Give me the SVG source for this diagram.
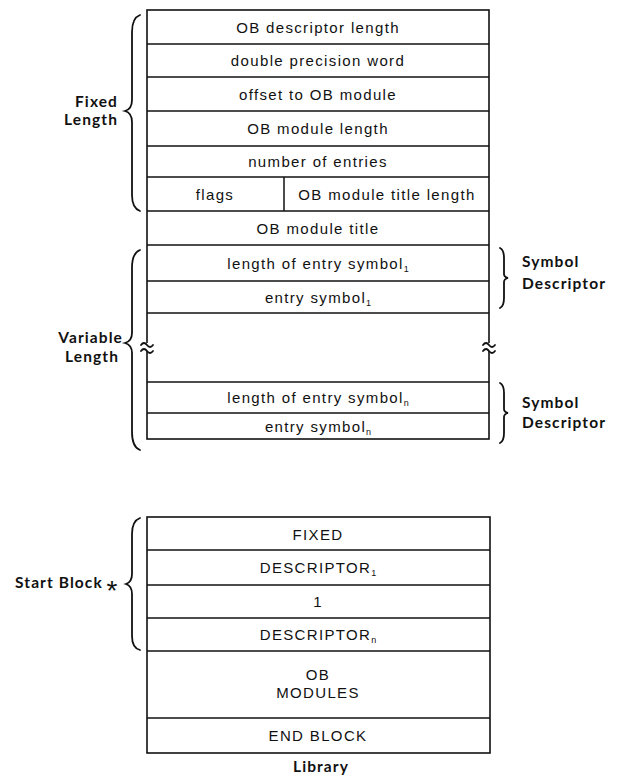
<svg xmlns="http://www.w3.org/2000/svg" width="618" height="776" viewBox="0 0 618 776">
<style>
.box{fill:none;stroke:#111;stroke-width:1.6}
.ln{stroke:#111;stroke-width:1.5}
.t{font-family:"Liberation Sans",Arial,sans-serif;font-size:15px;letter-spacing:1.35px;fill:#111;text-anchor:middle}
.sub{font-size:9px;letter-spacing:0}
.b{font-family:Lato,"Open Sans",sans-serif;font-weight:bold;font-size:15.5px;letter-spacing:1.1px;fill:#111}
.br{fill:none;stroke:#111;stroke-width:1.8;stroke-linecap:round}
</style>
<rect width="618" height="776" fill="#fff"/>

<g id="ob-descriptor">
  <rect class="box" x="147" y="10" width="342" height="429"/>
  <line class="ln" x1="147" y1="44" x2="489" y2="44"/>
  <line class="ln" x1="147" y1="77" x2="489" y2="77"/>
  <line class="ln" x1="147" y1="111" x2="489" y2="111"/>
  <line class="ln" x1="147" y1="146" x2="489" y2="146"/>
  <line class="ln" x1="147" y1="177" x2="489" y2="177"/>
  <line class="ln" x1="147" y1="211" x2="489" y2="211"/>
  <line class="ln" x1="284" y1="177" x2="284" y2="211"/>
  <line class="ln" x1="147" y1="245" x2="489" y2="245"/>
  <line class="ln" x1="147" y1="281" x2="489" y2="281"/>
  <line class="ln" x1="147" y1="313" x2="489" y2="313"/>
  <line class="ln" x1="147" y1="382" x2="489" y2="382"/>
  <line class="ln" x1="147" y1="413" x2="489" y2="413"/>
  <text class="t" x="318" y="33">OB descriptor length</text>
  <text class="t" x="318" y="66">double precision word</text>
  <text class="t" x="318" y="100">offset to OB module</text>
  <text class="t" x="318" y="134">OB module length</text>
  <text class="t" x="318" y="167">number of entries</text>
  <text class="t" x="215" y="200">flags</text>
  <text class="t" x="387" y="200">OB module title length</text>
  <text class="t" x="318" y="234">OB module title</text>
  <text class="t" x="318" y="269">length of entry symbol<tspan class="sub" dy="3">1</tspan></text>
  <text class="t" x="318" y="303">entry symbol<tspan class="sub" dy="3">1</tspan></text>
  <text class="t" x="318" y="403">length of entry symbol<tspan class="sub" dy="3">n</tspan></text>
  <text class="t" x="318" y="432">entry symbol<tspan class="sub" dy="3">n</tspan></text>
  <!-- break marks -->
  <rect x="142" y="343" width="12" height="8" fill="#fff"/>
  <rect x="484" y="343" width="12" height="8" fill="#fff"/>
  <path class="br" d="M141,345 q3,-4 6,0 t6,0 M141,351 q3,-4 6,0 t6,0" stroke-width="1.5"/>
  <path class="br" d="M483,345 q3,-4 6,0 t6,0 M483,351 q3,-4 6,0 t6,0" stroke-width="1.5"/>
</g>

<g id="fixed-length">
  <path class="br" d="M140,15 Q132,18 132,32 L132,100 Q132,109 125,111 Q132,113 132,122 L132,195 Q132,208 140,211"/>
  <text class="b" x="118" y="107" text-anchor="end">Fixed</text>
  <text class="b" x="118" y="125" text-anchor="end">Length</text>
</g>

<g id="variable-length">
  <path class="br" d="M140,250 Q132,253 132,268 L132,333 Q132,341 125,343 Q132,345 132,353 L132,432 Q132,447 140,450"/>
  <text class="b" x="123" y="343" text-anchor="end">Variable</text>
  <text class="b" x="119" y="362" text-anchor="end">Length</text>
</g>

<g id="symbol-descriptor-1">
  <path class="br" d="M500,248 Q504,250 504,258 L504,274 Q504,277 508,278 Q504,279 504,282 L504,298 Q504,306 500,308" stroke-width="1.5"/>
  <text class="b" x="522" y="267">Symbol</text>
  <text class="b" x="522" y="289">Descriptor</text>
</g>

<g id="symbol-descriptor-n">
  <path class="br" d="M500,383 Q504,385 504,393 L504,409 Q504,412 508,413 Q504,414 504,417 L504,433 Q504,441 500,443" stroke-width="1.5"/>
  <text class="b" x="522" y="408">Symbol</text>
  <text class="b" x="522" y="428">Descriptor</text>
</g>

<g id="library">
  <rect class="box" x="147" y="517" width="343" height="236"/>
  <line class="ln" x1="147" y1="550" x2="490" y2="550"/>
  <line class="ln" x1="147" y1="585" x2="490" y2="585"/>
  <line class="ln" x1="147" y1="618" x2="490" y2="618"/>
  <line class="ln" x1="147" y1="651" x2="490" y2="651"/>
  <line class="ln" x1="147" y1="718" x2="490" y2="718"/>
  <text class="t" x="318" y="540">FIXED</text>
  <text class="t" x="318" y="573">DESCRIPTOR<tspan class="sub" dy="3">1</tspan></text>
  <text class="t" x="318" y="607">1</text>
  <text class="t" x="318" y="640">DESCRIPTOR<tspan class="sub" dy="3">n</tspan></text>
  <text class="t" x="318" y="680">OB</text>
  <text class="t" x="318" y="698">MODULES</text>
  <text class="t" x="318" y="741">END BLOCK</text>
  <text class="b" x="321" y="772" text-anchor="middle">Library</text>
</g>

<g id="start-block">
  <path class="br" d="M140,518 Q132,521 132,534 L132,574 Q132,582 126,584 Q132,586 132,594 L132,636 Q132,648 140,650"/>
  <text class="b" x="15" y="588">Start Block</text>
  <text x="112" y="600" font-family="Liberation Sans,sans-serif" font-size="28" text-anchor="middle" fill="#111">*</text>
</g>

<g id="connectors"></g>
</svg>
